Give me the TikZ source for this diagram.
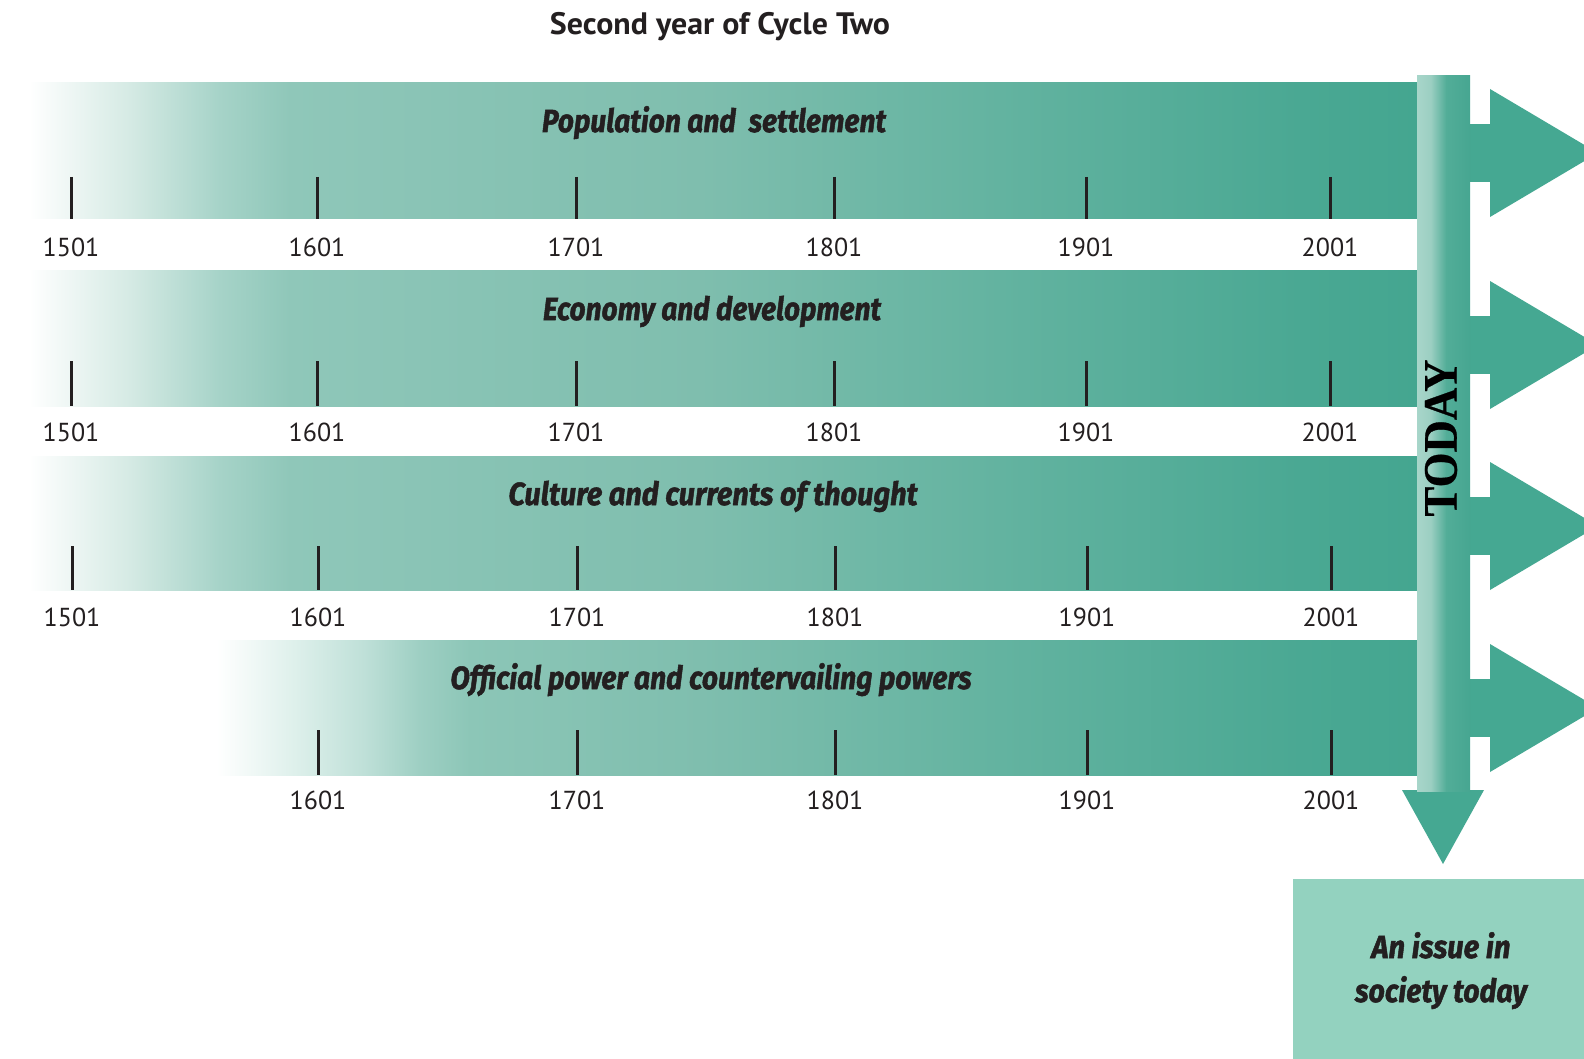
\documentclass[tikz,border=0pt]{standalone}
\usepackage{fontspec}
\usepackage{graphicx}
\setmainfont{PT Sans}
\newfontfamily\handfont{Fira Sans}[BoldItalicFeatures={FakeBold=1.6}]
\newfontfamily\todayfont{Liberation Serif}[BoldFeatures={FakeBold=0.6}]
\definecolor{ink}{HTML}{231F20}
\definecolor{teal}{HTML}{45A892}
\definecolor{boxfill}{HTML}{93D2BF}
\definecolor{cA}{HTML}{D5EAE4}
\definecolor{cB}{HTML}{A6D3C8}
\definecolor{cC}{HTML}{8FC7B9}
\definecolor{cD}{HTML}{7FBEAE}
\definecolor{cE}{HTML}{63B3A0}
\definecolor{cF}{HTML}{4AA893}
\definecolor{cG}{HTML}{44A690}
\definecolor{cR1}{HTML}{DCEFEA}
\definecolor{cR2}{HTML}{BFE0D8}
\definecolor{cR3}{HTML}{9ECFC3}
\definecolor{cR4}{HTML}{8CC6B7}
\definecolor{bL}{HTML}{A8D6CA}
\definecolor{bM}{HTML}{9CCFC2}
\definecolor{bD}{HTML}{52AD98}
\definecolor{bE}{HTML}{46A691}
\pgfdeclarehorizontalshading{bandA}{100bp}{color(0bp)=(white); color(25.5bp)=(white); color(29.1bp)=(cA); color(32.3bp)=(cB); color(34.8bp)=(cC); color(49.4bp)=(cD); color(60.1bp)=(cE); color(70.8bp)=(cF); color(75bp)=(cG); color(100bp)=(cG)}
\pgfdeclarehorizontalshading{bandB}{100bp}{color(0bp)=(white); color(25.2bp)=(white); color(28.6bp)=(cR1); color(31.3bp)=(cR2); color(33.6bp)=(cR3); color(35.7bp)=(cR4); color(45.3bp)=(cD); color(57.7bp)=(cE); color(70.2bp)=(cF); color(75bp)=(cG); color(100bp)=(cG)}
\pgfdeclarehorizontalshading{barshade}{100bp}{color(0bp)=(bL); color(25bp)=(bL); color(37.7bp)=(bM); color(52.5bp)=(bD); color(75bp)=(bE); color(100bp)=(bE)}
\begin{document}
\begin{tikzpicture}[x=1pt,y=-1pt,
  tickmark/.style={line width=3pt, draw=ink},
  yearlbl/.style={font=\fontsize{26}{26}\selectfont, anchor=base, text=ink, inner sep=0pt},
  bandtitle/.style={font=\handfont\bfseries\itshape\fontsize{32}{32}\selectfont, anchor=base, text=ink, inner sep=0pt},
  arrowfill/.style={fill=teal, draw=none}]
\useasboundingbox (0,0) rectangle (1584,1059);
\fill[white] (0,0) rectangle (1584,1059);

% title
\node[font=\bfseries\fontsize{31}{31}\selectfont, anchor=base, text=ink, inner sep=0pt] (title) at (720,35) {\resizebox{340pt}{\height}{Second year of Cycle Two}};

% bands
\shade[shading=bandA] (15,83) rectangle (1417,219);
\shade[shading=bandA] (15,271) rectangle (1417,406);
\shade[shading=bandA] (15,456) rectangle (1417,590);
\shade[shading=bandB] (212,640) rectangle (1417,775);

% band titles
\node[bandtitle] (t1) at (714,132) {\resizebox{344pt}{\height}{Population and\ \ settlement}};
\node[bandtitle] (t2) at (712,320) {\resizebox{338pt}{\height}{Economy and development}};
\node[bandtitle] (t3) at (713,505) {\resizebox{409pt}{\height}{Culture and currents of thought}};
\node[bandtitle] (t4) at (711,689) {\resizebox{521pt}{\height}{Official power and countervailing powers}};

% ticks and years
\foreach \x/\yr in {71/1501,317/1601,576/1701,834/1801,1086/1901,1330/2001}{
  \draw[tickmark] (\x,177) -- (\x,219);
  \node[yearlbl] (ya\yr) at (\x,257) {\yr};
  \draw[tickmark] (\x,361) -- (\x,406);
  \node[yearlbl] (yb\yr) at (\x,441) {\yr};
  \draw[tickmark] (\x+1,546) -- (\x+1,590);
  \node[yearlbl] (yc\yr) at (\x+1,626) {\yr};
}
\foreach \x/\yr in {317/1601,576/1701,834/1801,1086/1901,1330/2001}{
  \draw[tickmark] (\x+1,730) -- (\x+1,775);
  \node[yearlbl] (yd\yr) at (\x+1,809) {\yr};
}

% right arrows
\foreach \c in {153,345,526,708}{
  \fill[arrowfill] (1468,\c-29) rectangle (1491,\c+29);
  \fill[arrowfill] (1490,\c-64) -- (1598,\c) -- (1490,\c+64) -- cycle;
}

% TODAY bar
\fill[arrowfill] (1402,790) -- (1484,790) -- (1443,864) -- cycle;
\shade[shading=barshade] (1417,76) rectangle (1470,791);
\node[rotate=90, font=\todayfont\bfseries\fontsize{48}{48}\selectfont, text=black, inner sep=0pt] (today) at (1441,438) {\resizebox{157pt}{\height}{TODAY}};

% issue box
\fill[boxfill] (1293,879) rectangle (1584,1059);
\node[bandtitle] (issue1) at (1441,958) {\resizebox{139pt}{\height}{An issue in}};
\node[bandtitle] (issue2) at (1441,1002) {\resizebox{172pt}{\height}{society today}};
\end{tikzpicture}
\end{document}
